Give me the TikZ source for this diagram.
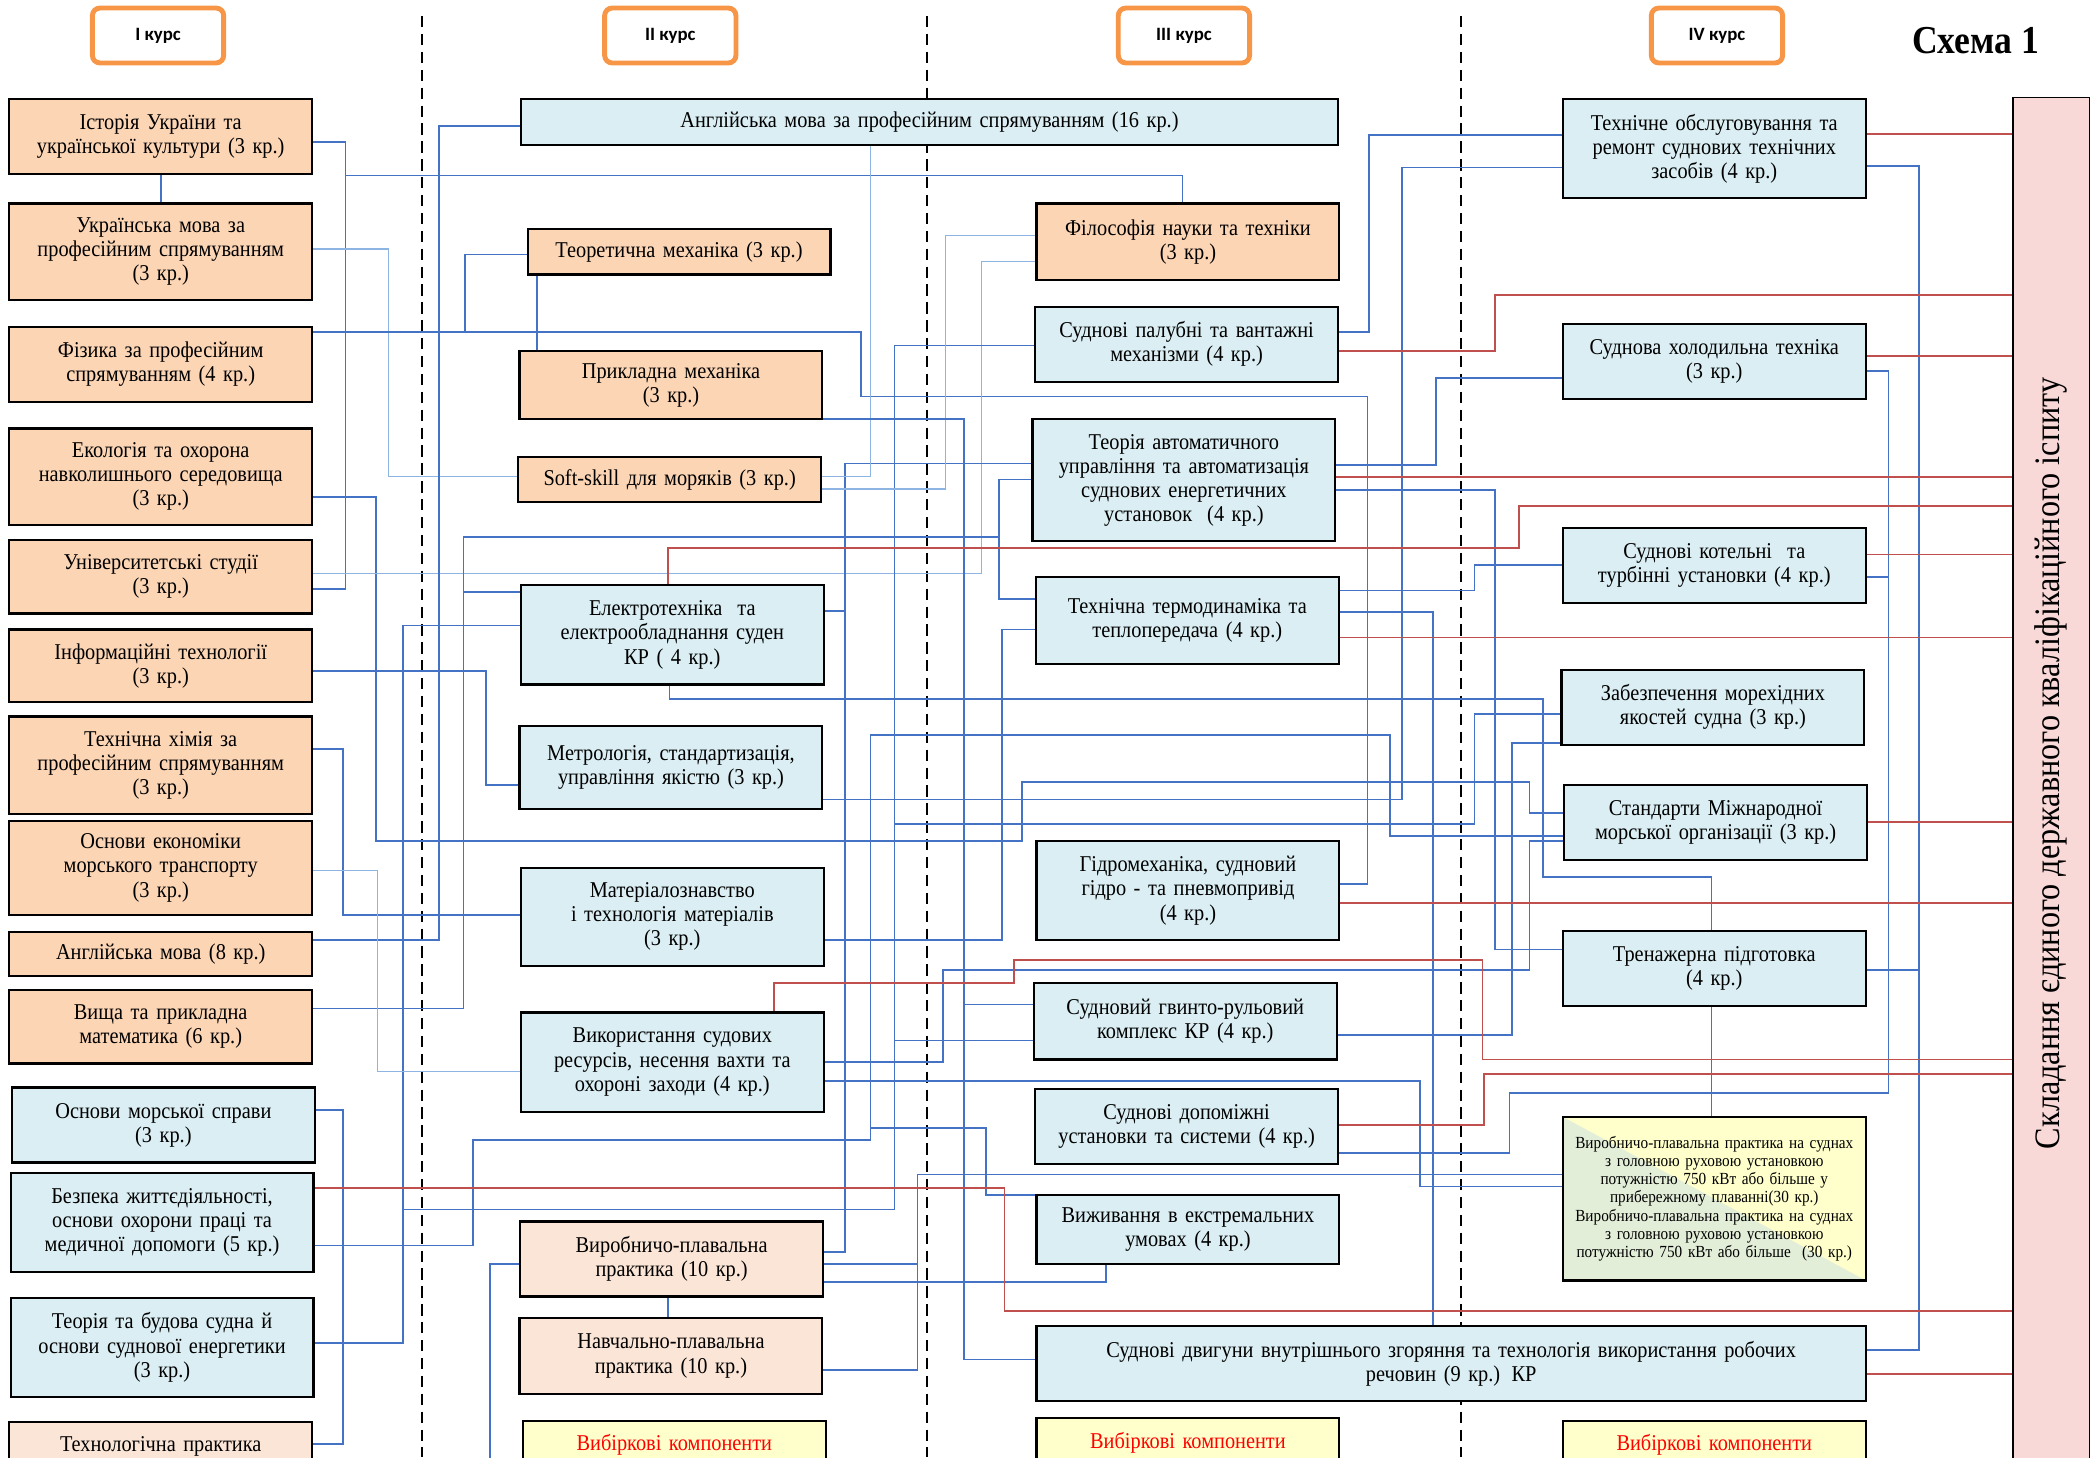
\documentclass[tikz,border=0pt]{standalone}
\usepackage{fontspec}
\setmainfont{Liberation Serif}[FakeStretch=0.9]
\newfontfamily\hdrfont{Carlito}
\usetikzlibrary{positioning}
\definecolor{peachc}{HTML}{FCD5B5}
\definecolor{skyc}{HTML}{DAEEF3}
\definecolor{palec}{HTML}{FBE5D6}
\definecolor{lemonc}{HTML}{FFFFCC}
\definecolor{mintc}{HTML}{E3EED9}
\definecolor{pinkc}{HTML}{F9D9D8}
\definecolor{orangec}{HTML}{F79646}
\definecolor{linkc}{HTML}{4472C4}
\definecolor{lightlinkc}{HTML}{8EB4E3}
\definecolor{redc}{HTML}{C0504D}
\pgfdeclarelayer{bg}
\pgfsetlayers{bg,main}

\begin{document}
\begin{tikzpicture}[x=0.025cm, y=-0.025cm,
    subject/.style={draw, line width=1.2pt, text width=5.45cm, inner xsep=0.1cm, align=center, font=\fontsize{12}{12.8}\selectfont},
    first/.style={subject, fill=peachc},
    core/.style={subject, fill=skyc},
    practice/.style={subject, fill=palec},
    elective/.style={subject, fill=lemonc, text=red, minimum height=0.9cm},
    course/.style={draw=orangec, line width=2.6pt, rounded corners=4pt, fill=white, minimum width=2.45cm, minimum height=1.025cm, font=\hdrfont\bfseries\fontsize{10}{12}\selectfont},
    divider/.style={black, line width=0.9pt, dash pattern=on 6pt off 3.5pt},
    link/.style={draw=linkc, line width=0.9pt},
    thin link/.style={draw=lightlinkc, line width=0.7pt},
    redlink/.style={draw=redc, line width=0.9pt}
]
\useasboundingbox (0,0) rectangle (1568,1088);

% courses
\node[course] (k1) at (118,26.5) {I курс};
\node[course] (k2) at (500.5,26.5) {II курс};
\node[course] (k3) at (884,26.5) {III курс};
\node[course] (k4) at (1282,26.5) {IV курс};
\node[font=\bfseries\fontsize{21}{24}\selectfont] (title) at (1475,30) {Схема 1};

% I course
\node[first, minimum height=1.4cm] (hist) at (120,102) {Історія України та\\української культури (3 кр.)};
\node[first, minimum height=1.8cm] (ukr) at (120,188) {Українська мова за\\професійним спрямуванням\\(3 кр.)};
\node[first, minimum height=1.4cm] (phys) at (120,272) {Фізика за професійним\\спрямуванням (4 кр.)};
\node[first, minimum height=1.8cm] (eco) at (120,356) {Екологія та охорона\\навколишнього середовища\\(3 кр.)};
\node[first, minimum height=1.375cm] (univ) at (120,430.5) {Університетські студії\\(3 кр.)};
\node[first, minimum height=1.35cm] (inf) at (120,497) {Інформаційні технології\\(3 кр.)};
\node[first, minimum height=1.825cm] (chem) at (120,571.5) {Технічна хімія за\\професійним спрямуванням\\(3 кр.)};
\node[first, minimum height=1.75cm] (econ) at (120,648) {Основи економіки\\морського транспорту\\(3 кр.)};
\node[first, minimum height=0.825cm] (eng8) at (120,712.5) {Англійська мова (8 кр.)};
\node[first, minimum height=1.375cm] (math) at (120,766.5) {Вища та прикладна\\математика (6 кр.)};
\node[core, minimum height=1.4cm] (mar) at (122,840) {Основи морської справи\\(3 кр.)};
\node[core, minimum height=1.85cm] (safety) at (121,913) {Безпека життєдіяльності,\\основи охорони праці та\\медичної допомоги (5 кр.)};
\node[core, minimum height=1.85cm] (ship) at (121,1006) {Теорія та будова судна й\\основи суднової енергетики\\(3 кр.)};
\node[practice, minimum height=0.9cm] (techprac) at (120,1080) {Технологічна практика};

% II course
\node[core, text width=15.05cm, minimum height=0.85cm] (eng16) at (694,91) {Англійська мова за професійним спрямуванням (16 кр.)};
\node[first, minimum height=0.85cm] (theor) at (507,188) {Теоретична механіка (3 кр.)};
\node[first, minimum height=1.275cm] (appl) at (501,287.5) {Прикладна механіка\\(3 кр.)};
\node[first, minimum height=0.85cm] (soft) at (500,358) {Soft-skill для моряків (3 кр.)};
\node[core, minimum height=1.85cm] (elec) at (502,474) {Електротехніка\ \ та\\електрообладнання суден\\КР ( 4 кр.)};
\node[core, minimum height=1.55cm] (metr) at (501,573) {Метрологія, стандартизація,\\управління якістю (3 кр.)};
\node[core, minimum height=1.825cm] (mat) at (502,684.5) {Матеріалознавство\\і технологія матеріалів\\(3 кр.)};
\node[core, minimum height=1.85cm] (use) at (502,793) {Використання судових\\ресурсів, несення вахти та\\охороні заходи (4 кр.)};
\node[practice, minimum height=1.4cm] (prod10) at (501.5,940) {Виробничо-плавальна\\практика (10 кр.)};
\node[practice, minimum height=1.425cm] (edu10) at (501,1012.5) {Навчально-плавальна\\практика (10 кр.)};
\node[elective] (opt2) at (503.5,1079) {Вибіркові компоненти};

% III course
\node[first, minimum height=1.425cm] (phil) at (887,180.5) {Філософія науки та техніки\\(3 кр.)};
\node[core, minimum height=1.4cm] (deck) at (886,257) {Суднові палубні та вантажні\\механізми (4 кр.)};
\node[core, minimum height=2.275cm] (auto) at (884,358.5) {Теорія автоматичного\\управління та автоматизація\\суднових енергетичних\\установок\ \ (4 кр.)};
\node[core, minimum height=1.625cm] (thermo) at (886.5,463.5) {Технічна термодинаміка та\\теплопередача (4 кр.)\\[4pt]};
\node[core, minimum height=1.85cm] (hydro) at (887,665) {Гідромеханіка, судновий\\гідро - та пневмопривід\\(4 кр.)};
\node[core, minimum height=1.425cm] (screw) at (885,762.5) {Судновий гвинто-рульовий\\комплекс КР (4 кр.)};
\node[core, minimum height=1.4cm] (aux) at (886,841) {Суднові допоміжні\\установки та системи (4 кр.)};
\node[core, minimum height=1.3cm] (surv) at (887,918) {Виживання в екстремальних\\умовах (4 кр.)};
\node[core, text width=15.275cm, minimum height=1.4cm] (ice) at (1083.5,1018) {Суднові двигуни внутрішнього згоряння та технологія використання робочих\\речовин (9 кр.) КР};
\node[elective] (opt3) at (887,1077) {Вибіркові компоненти};

% IV course
\node[core, minimum height=1.85cm] (maint) at (1280,111) {Технічне обслуговування та\\ремонт суднових технічних\\засобів (4 кр.)};
\node[core, minimum height=1.4cm] (refr) at (1280,270) {Суднова холодильна техніка\\(3 кр.)};
\node[core, minimum height=1.4cm] (boil) at (1280,422) {Суднові котельні\ \ та\\турбінні установки (4 кр.)};
\node[core, minimum height=1.4cm] (seaw) at (1279,528) {Забезпечення морехідних\\якостей судна (3 кр.)};
\node[core, minimum height=1.4cm] (imo) at (1281,614) {Стандарти Міжнародної\\морської організації (3 кр.)};
\node[core, minimum height=1.4cm] (sim) at (1280,723) {Тренажерна підготовка\\(4 кр.)};
\node[subject, fill=lemonc, minimum height=3.05cm, font=\fontsize{9}{9.7}\selectfont,
      path picture={\fill[mintc] (path picture bounding box.north west) -- (path picture bounding box.south east) -- (path picture bounding box.south west) -- cycle;}]
      (prac) at (1280,895) {Виробничо-плавальна практика на суднах\\з головною руховою установкою\\потужністю 750 кВт або більше у\\прибережному плаванні(30 кр.)\\Виробничо-плавальна практика на суднах\\з головною руховою установкою\\потужністю 750 кВт або більше\ \ (30 кр.)};
\node[elective] (opt4) at (1280,1079) {Вибіркові компоненти};

% exam
\node[draw, line width=0.6pt, fill=pinkc, minimum width=1.425cm, minimum height=25.675cm] (exam) at (1531.5,586.5) {};
\node[rotate=90, font=\fontsize{19}{22}\selectfont] (examlabel) at (1531,570) {Складання єдиного державного кваліфікаційного іспиту};

\coordinate (down) at (366,1100);

\begin{pgfonlayer}{bg}
\foreach \x in {315,692,1091}
    \draw[divider] (\x,12) -- (\x,1088);

% Connections
\draw[link] (hist.south) -- (ukr.north);
\draw[link] (hist.east |- 0,106) -| (258,440) -- (univ.east |- 0,440);
\draw[link] (hist.east |- 0,106) -| (258,131) -| (phil.north -| 883,0);
\draw[thin link] (ukr.east |- 0,186) -| (290,356) -- (soft.west |- 0,356);
\draw[link] (phys.east |- 0,248) -| (347,190) -- (theor.west |- 0,190);
\draw[link] (phys.east |- 0,248) -| (643,296) -| (1021,660) -- (hydro.east |- 0,660);
\draw[link] (theor.south -| 401,0) -- (appl.north -| 401,0);
\draw[link] (eco.east |- 0,371) -| (281,628) -| (763,584) -| (1142,607) -- (imo.west |- 0,607);
\draw[thin link] (univ.east |- 0,428) -| (733,195) -- (phil.west |- 0,195);
\draw[link] (eng16.west |- 0,94) -| (328,702) -- (eng8.east |- 0,702);
\draw[link] (math.east |- 0,753) -| (346,442) -- (elec.west |- 0,442);
\draw[link] (math.east |- 0,753) -| (346,401) -| (746,447) -- (thermo.west |- 0,447);
\draw[link] (auto.west |- 0,358) -| (746,447) -- (thermo.west |- 0,447);
\draw[link] (ship.east |- 0,1003) -| (301,467) -- (elec.west |- 0,467);
\draw[link] (ship.east |- 0,1003) -| (301,903) -| (668,258) -- (deck.west |- 0,258);
\draw[link] (screw.west |- 0,777) -| (668,258) -- (deck.west |- 0,258);
\draw[link] (deck.west |- 0,258) -| (668,615) -| (1101,533) -- (seaw.west |- 0,533);
\draw[link] (inf.east |- 0,501) -| (363,586) -- (metr.west |- 0,586);
\draw[link] (chem.east |- 0,559) -| (256,683) -- (mat.west |- 0,683);
\draw[link] (mar.east |- 0,829) -| (256,1078) -- (techprac.east |- 0,1078);
\draw[thin link] (econ.east |- 0,650) -| (282,800) -- (use.west |- 0,800);
\draw[link] (elec.south -| 500,0) |- (1152,522) |- (1278,655) -- (sim.north -| 1278,0);
\draw[link] (auto.west |- 0,346) -| (631,935) -- (prod10.east |- 0,935);
\draw[link] (auto.west |- 0,346) -| (631,456) -- (elec.east |- 0,456);
\draw[thin link] (eng16.south -| 650,0) |- (soft.east |- 0,356);
\draw[thin link] (phil.west |- 0,176) -| (706,365) -- (soft.east |- 0,365);
\draw[link] (appl.east |- 0,313) -| (720,1015) -- (ice.west |- 0,1015);
\draw[link] (screw.west |- 0,750) -| (720,313) -- (appl.east |- 0,313);
\draw[link] (deck.east |- 0,248) -| (1022,101) -- (maint.west |- 0,101);
\draw[link] (metr.east |- 0,597) -| (1047,125) -- (maint.west |- 0,125);
\draw[link] (mat.east |- 0,702) -| (748,470) -- (thermo.west |- 0,470);
\draw[link] (auto.east |- 0,347) -| (1072,282) -- (refr.west |- 0,282);
\draw[link] (auto.east |- 0,366) -| (1116,709) -- (sim.west |- 0,709);
\draw[link] (thermo.east |- 0,441) -| (1101,422) -- (boil.west |- 0,422);
\draw[link] (thermo.east |- 0,457) -| (ice.north -| 1070,0);
\draw[link] (screw.east |- 0,773) -| (1129,555) -- (seaw.west |- 0,555);
\draw[link] (safety.east |- 0,930) -| (353,851) -| (650,549) -| (1038,624) -- (imo.west |- 0,624);
\draw[link] (safety.east |- 0,930) -| (353,851) -| (650,842) -| (736,892) -- (surv.west |- 0,892);
\draw[link] (use.east |- 0,793) -| (704,724) -| (1142,628) -- (imo.west |- 0,628);
\draw[link] (use.east |- 0,807) -| (1060,886) -- (prac.west |- 0,886);
\draw[link] (aux.east |- 0,861) -| (1127,816) -| (1410,277) -- (refr.east |- 0,277);
\draw[link] (boil.east |- 0,431) -| (1410,816) -| (1127,861) -- (aux.east |- 0,861);
\draw[link] (edu10.east |- 0,1023) -| (685,877) -- (prac.west |- 0,877);
\draw[link] (prod10.east |- 0,944) -| (685,877) -- (prac.west |- 0,877);
\draw[link] (prod10.east |- 0,957) -| (surv.south -| 826,0);
\draw[link] (prod10.south -| 499,0) -- (edu10.north -| 499,0);
\draw[link] (prod10.west |- 0,944) -| (down);
\draw[link] (sim.south -| 1278,0) -- (prac.north -| 1278,0);
\draw[link] (maint.east |- 0,124) -| (1433,1008) -- (ice.east |- 0,1008);
\draw[link] (sim.east |- 0,724) -| (1433,1008) -- (ice.east |- 0,1008);

% to the exam
\draw[redlink] (elec.north -| 499,0) |- (1134,409) |- (exam.west |- 0,378);
\draw[redlink] (deck.east |- 0,262) -| (1116,220) -- (exam.west |- 0,220);
\draw[redlink] (safety.east |- 0,887) -| (750,979) -- (exam.west |- 0,979);
\draw[redlink] (use.north -| 578,0) |- (757,734) |- (1107,717) |- (exam.west |- 0,791);
\draw[redlink] (aux.east |- 0,840) -| (1108,802) -- (exam.west |- 0,802);
\foreach \n/\y in {maint/100, refr/266, auto/356, boil/414, thermo/476, imo/614, hydro/674, ice/1026}
    \draw[redlink] (\n.east |- 0,\y) -- (exam.west |- 0,\y);
\end{pgfonlayer}

\end{tikzpicture}
\end{document}
